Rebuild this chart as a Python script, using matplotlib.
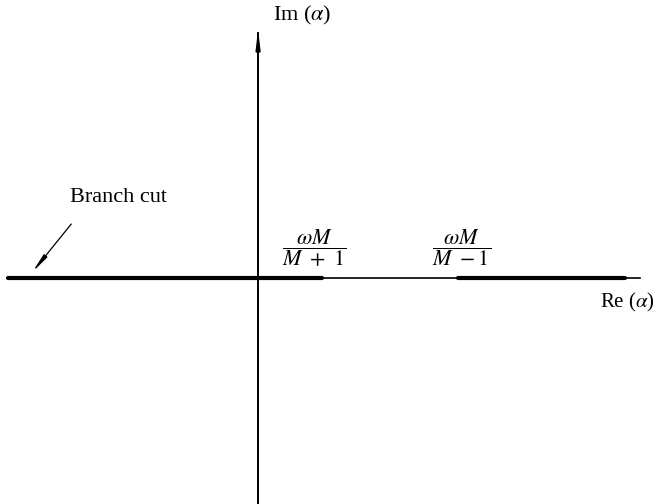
import matplotlib
matplotlib.use("Agg")
import matplotlib.pyplot as plt

plt.rcParams['font.family'] = ['Liberation Serif', 'DejaVu Serif']
plt.rcParams['mathtext.fontset'] = 'stix'

# data (units where omega*M/(M+1) = 1)
branch_points = [1.0, 3.125]          # omega*M/(M+1), omega*M/(M-1)
label_x = [0.88, 3.17]
re_axis = [-3.9, 5.97]
im_axis = [-3.6, 3.92]
cut_left = [-3.9, branch_points[0]]
cut_right = [branch_points[1], 5.73]
point_labels = [r'$\dfrac{\omega M}{M\ +\ 1}$', r'$\dfrac{\omega M}{M\ -1}$']

fig = plt.figure(figsize=(6.57, 5.04), dpi=100)
ax = fig.add_axes([0, 0, 1, 1])
ax.set_xlim(-4.03, 6.23)
ax.set_ylim(-3.53, 4.34)
ax.axis('off')

# real axis
ax.plot(re_axis, [0, 0], color='black', lw=1.2)
# branch cuts (thick)
ax.plot(cut_left, [0, 0], color='black', lw=3.0, solid_capstyle='round')
ax.plot(cut_right, [0, 0], color='black', lw=3.0, solid_capstyle='round')

# imaginary axis with arrow
ax.plot([0, 0], [im_axis[0], im_axis[1] - 0.1], color='black', lw=1.4)
ax.annotate('', xy=(0, im_axis[1]), xytext=(0, im_axis[1] - 0.35),
            arrowprops=dict(arrowstyle='-|>,head_length=1.0,head_width=0.12',
                            color='black', lw=1.4))

ax.text(0.23, 4.1, r'Im ($\alpha$)', fontsize=16, va='center', ha='left')
ax.text(5.34, -0.38, r'Re ($\alpha$)', fontsize=15, va='center', ha='left')

# branch cut label and arrow
ax.text(-2.94, 1.25, 'Branch cut', fontsize=16, va='center', ha='left')
ax.annotate('', xy=(-3.55, 0.06), xytext=(-2.89, 0.875),
            arrowprops=dict(arrowstyle='-|>,head_length=1.1,head_width=0.13',
                            color='black', lw=0.9))

for lx, lab in zip(label_x, point_labels):
    ax.text(lx, 0.47, lab, fontsize=16, va='center', ha='center')

fig.savefig('out.png', dpi=100)
